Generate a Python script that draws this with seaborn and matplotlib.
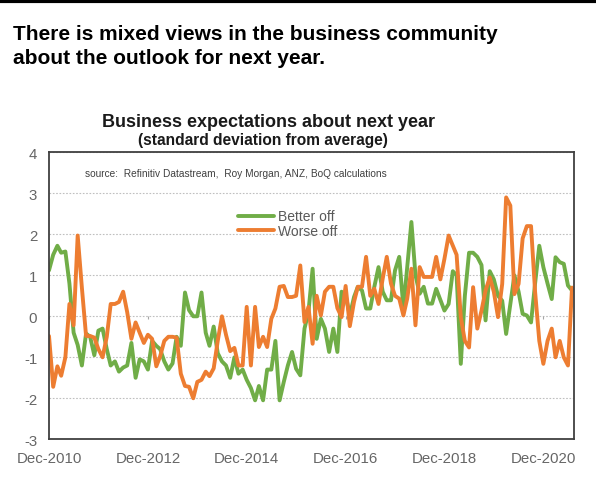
import numpy as np
import pandas as pd
import seaborn as sns
import matplotlib.pyplot as plt
from matplotlib.lines import Line2D

# Monthly readings, Dec-2010 to Jul-2021 (standard deviations from average)
start_month = "2010-12-01"

better_off = [
    1.12, 1.50, 1.72, 1.55, 1.58, 0.80, -0.40, -0.70, -1.20, -0.42,
    -0.50, -0.95, -0.35, -0.30, -0.80, -1.20, -1.10, -1.35, -1.25, -1.20,
    -0.65, -1.50, -1.05, -1.10, -1.30, -0.60, -0.72, -0.80, -1.10, -1.30,
    -1.15, -0.50, -0.72, 0.58, 0.15, 0.00, 0.00, 0.58, -0.40, -0.72,
    -0.25, -0.90, -1.10, -1.20, -1.50, -1.00, -1.40, -1.30, -1.55, -1.75,
    -2.05, -1.70, -2.05, -1.30, -1.30, -0.60, -2.05, -1.60, -1.20, -0.87,
    -1.28, -1.44, -0.30, 0.10, 1.16, -0.55, -0.06, -0.30, -0.87, -0.30,
    -0.87, 0.60, 0.51, 0.02, 0.47, 0.72, 0.63, 0.19, 0.19, 0.72,
    1.20, 0.60, 0.39, 0.39, 1.12, 1.45, 0.20, 1.20, 2.30, 1.00,
    0.55, 0.72, 0.31, 0.31, 0.67, 0.40, 0.14, 0.30, 1.10, 1.00,
    -1.16, 0.50, 1.55, 1.55, 1.45, 1.25, -0.10, 1.10, 0.90, 0.50,
    0.38, -0.43, 0.30, 1.00, 0.60, 0.06, 0.02, -0.15, 0.80, 1.72,
    1.20, 0.80, 0.42, 1.44, 1.32, 1.28, 0.75, 0.63,
]

worse_off = [
    -0.48, -1.72, -1.22, -1.45, -1.00, 0.30, -0.22, 1.97, 0.70, -0.48,
    -0.48, -0.52, -0.80, -1.00, -0.50, 0.30, 0.30, 0.35, 0.60, 0.10,
    -0.55, -0.15, -0.40, -0.65, -0.45, -0.55, -1.22, -0.98, -0.60, -0.50,
    -0.50, -0.52, -1.40, -1.70, -1.72, -2.00, -1.60, -1.55, -1.35, -1.46,
    -1.27, -0.60, 0.00, -0.45, -0.85, -0.77, -1.20, -1.20, 0.23, -1.20,
    0.23, -0.75, -0.50, -0.75, -0.06, 0.19, 0.72, 0.74, 0.47, 0.47,
    0.50, 1.24, -0.14, 0.23, -0.67, 0.50, 0.02, 0.60, 0.72, 0.72,
    0.20, -0.02, 0.74, -0.24, 0.35, 0.72, 0.72, 1.45, 0.50, 0.67,
    0.30, 0.92, 1.45, 0.80, 0.50, 0.43, 0.02, 0.43, 1.16, -0.22,
    1.20, 0.96, 0.96, 0.96, 1.45, 0.90, 1.40, 1.97, 1.72, 1.50,
    -0.02, -0.60, -0.76, 0.71, -0.30, 0.14, 0.63, 0.95, 0.60, -0.02,
    0.79, 2.90, 2.70, 0.54, 0.79, 1.90, 2.20, 2.20, 0.60, -0.60,
    -1.16, -0.60, -0.30, -1.00, -0.60, -1.00, -1.20, 0.70,
]

series_names = ["Better off", "Worse off"]
series_colors = ["#70AD47", "#ED7D31"]
y_ticks = [4, 3, 2, 1, 0, -1, -2, -3]
x_tick_labels = ["Dec-2010", "Dec-2012", "Dec-2014", "Dec-2016", "Dec-2018", "Dec-2020"]

headline = "There is mixed views in the business community\nabout the outlook for next year."
chart_title = "Business expectations about next year"
chart_subtitle = "(standard deviation from average)"
source_note = "source:  Refinitiv Datastream,  Roy Morgan, ANZ, BoQ calculations"

dates = pd.date_range(start_month, periods=len(better_off), freq="MS")
df = pd.DataFrame({
    "date": np.concatenate([dates, dates]),
    "value": better_off + worse_off,
    "series": [series_names[0]] * len(better_off) + [series_names[1]] * len(worse_off),
})

sns.set_style("white")
plt.rcParams["font.family"] = ["Liberation Sans", "DejaVu Sans"]
plt.rcParams["axes.unicode_minus"] = False

fig = plt.figure(figsize=(5.96, 4.85), dpi=100)
ax = fig.add_axes([0.0822, 0.0922, 0.881, 0.5917])

sns.lineplot(data=df, x="date", y="value", hue="series", hue_order=series_names,
             palette=series_colors, linewidth=2.8, legend=False, ax=ax,
             estimator=None)

# axes limits and ticks
tick_dates = pd.to_datetime(["%s-12-01" % lab.split("-")[1] for lab in x_tick_labels])
ax.set_xlim(pd.Timestamp("2010-12-01"), pd.Timestamp("2021-07-16"))
ax.set_ylim(min(y_ticks), max(y_ticks))
ax.set_yticks(y_ticks)
ax.set_xticks(tick_dates)
ax.set_xticklabels(x_tick_labels)
ax.tick_params(axis="both", length=0, labelsize=10.8, labelcolor="#666666")
ax.tick_params(axis="y", pad=8.5)
ax.tick_params(axis="x", pad=8.5)
ax.set_xlabel("")
ax.set_ylabel("")

# gridlines
ax.yaxis.grid(True, color="#bfbfbf", linestyle=(0, (1.5, 1.5)), linewidth=0.8)
ax.xaxis.grid(False)
ax.set_axisbelow(True)
# small ticks on the zero line
ax.vlines(tick_dates, -0.07, 0, color="#a6a6a6", linewidth=0.8, zorder=1)

for sp in ax.spines.values():
    sp.set_color("#404040")
    sp.set_linewidth(1.3)

# legend
handles = [Line2D([], [], color=c, linewidth=2.8) for c in series_colors]
leg = ax.legend(handles, series_names, loc="upper left", bbox_to_anchor=(0.36, 0.801),
                frameon=False, fontsize=10, handlelength=2.6, handletextpad=0.3,
                labelspacing=0.03, borderpad=0, borderaxespad=0)
for t in leg.get_texts():
    t.set_color("#595959")

# source note inside the plot
ax.text(0.0686, 0.927, source_note, transform=ax.transAxes, fontsize=7.3,
        color="#404040", va="center", ha="left")

# titles
fig.text(0.45, 0.739, chart_title, ha="center", va="baseline", fontsize=13,
         fontweight="bold", color="#1a1a1a")
fig.text(0.442, 0.701, chart_subtitle, ha="center", va="baseline", fontsize=11.2,
         fontweight="bold", color="#1a1a1a")
fig.text(0.0218, 0.9165, headline.split("\n")[0], ha="left", va="baseline",
         fontsize=15, fontweight="bold", color="black")
fig.text(0.0218, 0.8674, headline.split("\n")[1], ha="left", va="baseline",
         fontsize=15, fontweight="bold", color="black")

# heavy rule across the top
fig.add_artist(Line2D([0, 1], [1 - 2 / 485, 1 - 2 / 485], transform=fig.transFigure,
                      color="black", linewidth=3))

fig.savefig("out.png", dpi=100)
